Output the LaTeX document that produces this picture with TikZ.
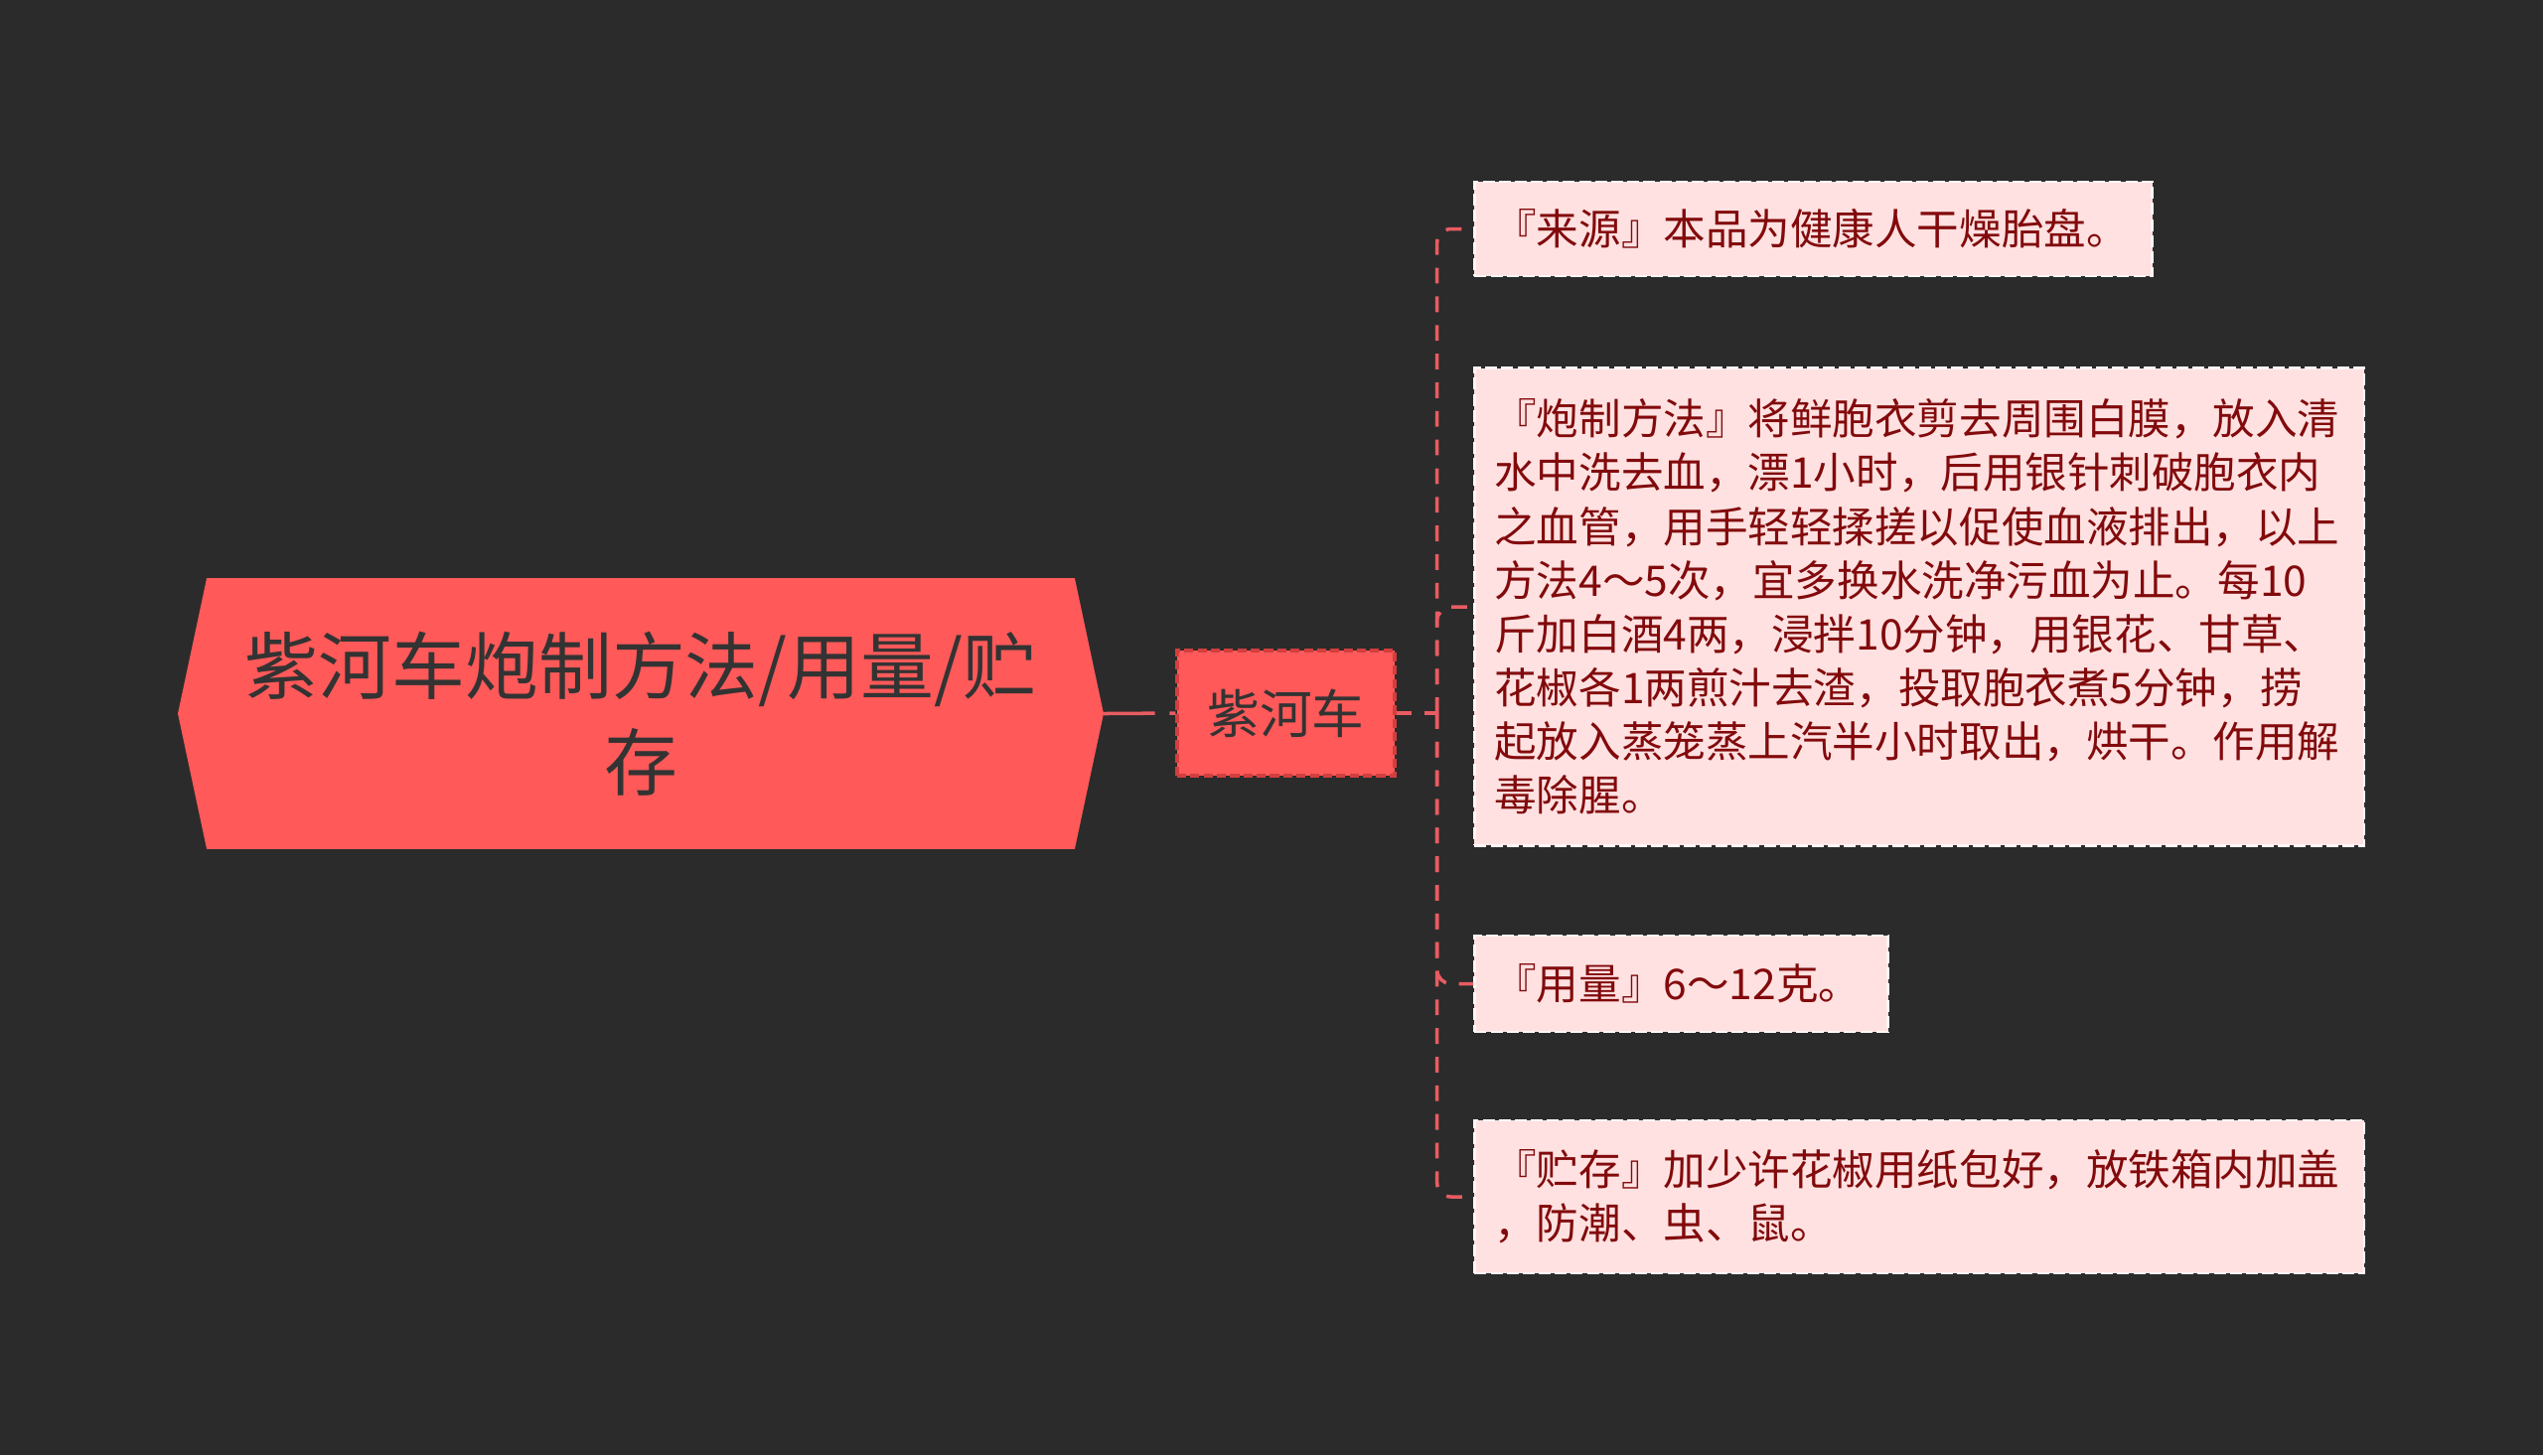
\documentclass[tikz,border=0pt]{standalone}
\usepackage{fontspec}
\setmainfont{Noto Sans CJK SC}
\usepackage{tikz}
\usetikzlibrary{positioning, backgrounds}
\definecolor{bgdark}{RGB}{43,43,43}
\definecolor{rootred}{RGB}{255,89,89}
\definecolor{rootink}{RGB}{51,51,51}
\definecolor{subedge}{RGB}{212,62,62}
\definecolor{leafpale}{RGB}{255,225,225}
\definecolor{leafink}{RGB}{130,10,12}
\definecolor{linkred}{RGB}{232,92,98}
\tikzset{
  rootbox/.style={
    minimum width=8.72cm, minimum height=2.71cm, inner sep=0pt,
    align=center, text=rootink, font=\fontsize{21pt}{27.5pt}\selectfont
  },
  subbox/.style={
    draw=subedge, fill=rootred, line width=0.9pt, dash pattern=on 2.6pt off 1.2pt,
    minimum width=2.19cm, minimum height=1.26cm, inner sep=0pt,
    text=rootink, font=\fontsize{15pt}{18pt}\selectfont
  },
  leaf/.style={
    draw=white!70!leafpale, fill=leafpale, line width=0.8pt,
    dash pattern=on 3.4pt off 1.2pt, anchor=west,
    inner xsep=0.2cm, inner ysep=0pt, align=left, text=leafink,
    font=\fontsize{12.1pt}{15.4pt}\selectfont
  },
  link/.style={draw=linkred, line width=1pt, dash pattern=on 4.5pt off 3.7pt, rounded corners=4pt}
}

\begin{document}
\begin{tikzpicture}[x=0.01cm, y=-0.01cm]
  \node[rootbox] (root) at (645,718.5) {紫河车炮制方法/用量/贮\\存};
  \coordinate (roottip) at ([xshift=0.29cm]root.east);
  \coordinate (roottail) at ([xshift=-0.29cm]root.west);
  \node[subbox] (sub) at (1294.5,718) {紫河车};
  \coordinate (fork) at ([xshift=0.41cm]sub.east);

  \node[leaf, text width=6.42cm, minimum height=0.95cm] (source) at (1483,230.5) {『来源』本品为健康人干燥胎盘。};
  \node[leaf, text width=8.55cm, minimum height=4.80cm] (method) at (1483,611) {『炮制方法』将鲜胞衣剪去周围白膜，放入清\\水中洗去血，漂1小时，后用银针刺破胞衣内\\之血管，用手轻轻揉搓以促使血液排出，以上\\方法4～5次，宜多换水洗净污血为止。每10\\斤加白酒4两，浸拌10分钟，用银花、甘草、\\花椒各1两煎汁去渣，投取胞衣煮5分钟，捞\\起放入蒸笼蒸上汽半小时取出，烘干。作用解\\毒除腥。};
  \node[leaf, text width=3.76cm, minimum height=0.97cm] (dose) at (1483,990.5) {『用量』6～12克。};
  \node[leaf, text width=8.55cm, minimum height=1.54cm] (keep) at (1483,1205) {『贮存』加少许花椒用纸包好，放铁箱内加盖\\，防潮、虫、鼠。};

  \draw[link, dash pattern=on 14.7pt off 4.2pt] (roottip) -- (sub.west);
  \draw[link] (sub.east) -- (fork);
  \draw[link] (fork) |- (source.west);
  \draw[link] (fork) |- (method.west);
  \draw[link] (fork) |- (dose.west);
  \draw[link] (fork) |- (keep.west);

  \begin{pgfonlayer}{background}
    \fill[bgdark] (0,0) rectangle (2560,1465);
    \fill[rootred] (roottail) -- (root.north west) -- (root.north east) -- (roottip)
      -- (root.south east) -- (root.south west) -- cycle;
  \end{pgfonlayer}
\end{tikzpicture}
\end{document}
